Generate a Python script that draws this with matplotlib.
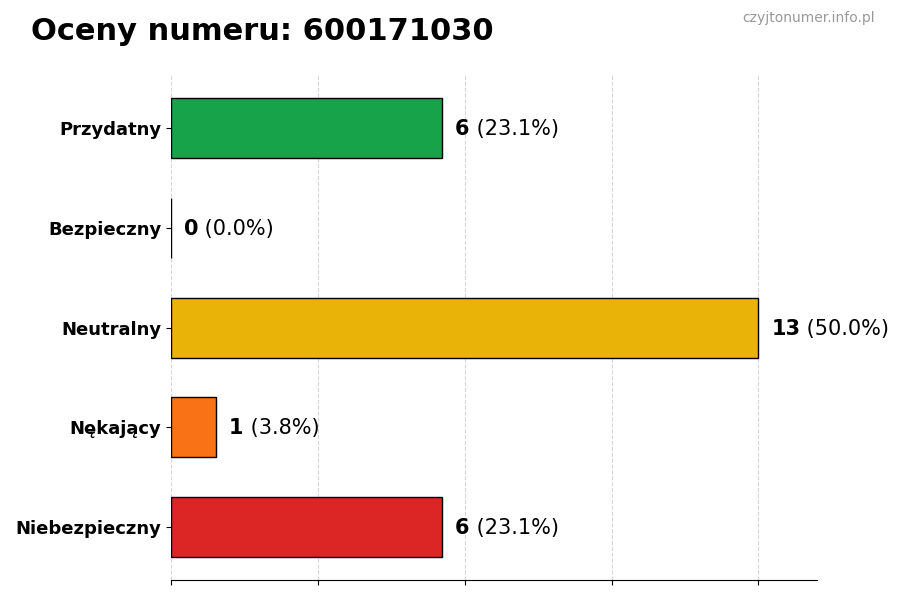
import matplotlib
matplotlib.use("Agg")
import matplotlib.pyplot as plt
import numpy as np

# dane z wykresu
categories = ["Przydatny", "Bezpieczny", "Neutralny", "Nękający", "Niebezpieczny"]
counts = [6, 0, 13, 1, 6]
colors = ["#16a34a", "#94a3b8", "#eab308", "#f97316", "#dc2626"]
number = "600171030"

total = sum(counts)
max_val = max(counts)

fig = plt.figure(figsize=(9, 6), dpi=100)
ax = fig.add_axes([0.19, 0.033, 0.718, 0.842])

y = np.arange(len(categories))[::-1]
ax.barh(y, counts, height=0.6, color=colors, edgecolor="black", linewidth=1)

ax.set_yticks(y)
ax.set_yticklabels(categories, fontsize=13, fontweight="bold")
ax.set_xlim(0, max_val * 1.1)
ax.set_xticks(np.linspace(0, max_val, 5))
ax.set_xticklabels([])
ax.grid(axis="x", linestyle="--", color="#cccccc", alpha=0.8)
ax.set_axisbelow(True)
for side in ["top", "right", "left"]:
    ax.spines[side].set_visible(False)

# etykiety przy słupkach: liczba pogrubiona + procent
for yi, c in zip(y, counts):
    pct = c / total * 100
    x0 = c + max_val * 0.022
    t = ax.text(x0, yi - 0.01, f"{c}", va="center", ha="left", fontsize=15, fontweight="bold")
    fig.canvas.draw()
    bb = t.get_window_extent()
    x1 = ax.transData.inverted().transform((bb.x1, 0))[0]
    ax.text(x1, yi - 0.01, f" ({pct:.1f}%)", va="center", ha="left", fontsize=15)

fig.text(0.034, 0.947, f"Oceny numeru: {number}", fontsize=22, fontweight="bold", va="center")
fig.text(0.972, 0.97, "czyjtonumer.info.pl", fontsize=10, color="#999999", ha="right", va="center")

fig.savefig("out.png", dpi=100)
